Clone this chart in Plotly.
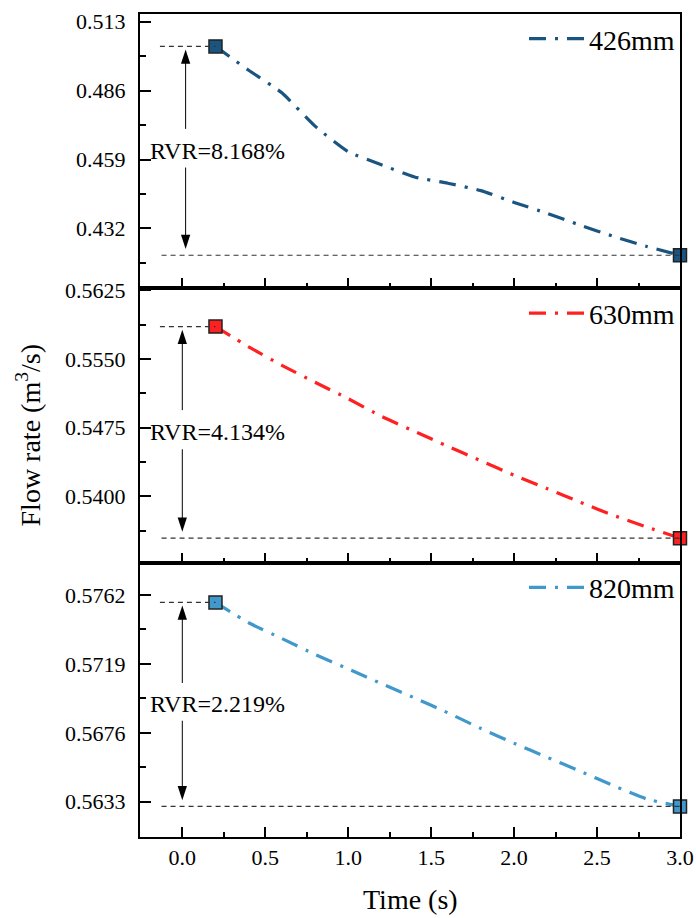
import plotly.graph_objects as go
from plotly.subplots import make_subplots

# ---------------- data ----------------
time = [0.2, 0.4, 0.6, 0.8, 1.0, 1.2, 1.4, 1.6, 1.8, 2.0, 2.2, 2.4, 2.6, 2.8, 3.0]
q426 = [0.50332, 0.49399, 0.48514, 0.47209, 0.46206, 0.45696, 0.45218, 0.44971,
        0.44681, 0.44219, 0.43792, 0.43322, 0.42887, 0.42495, 0.42150]
q630 = [0.55855, 0.55633, 0.55431, 0.55246, 0.55067, 0.54874, 0.54709, 0.54547,
        0.54387, 0.54230, 0.54083, 0.53934, 0.53790, 0.53664, 0.53542]
q820 = [0.57574, 0.57447, 0.57349, 0.57249, 0.57159, 0.57067, 0.56978, 0.56885,
        0.56787, 0.56695, 0.56607, 0.56520, 0.56430, 0.56347, 0.56301]
series_names = ["426mm", "630mm", "820mm"]
rvr_labels = ["RVR=8.168%", "RVR=4.134%", "RVR=2.219%"]

x_tickvals = [0.0, 0.5, 1.0, 1.5, 2.0, 2.5, 3.0]
x_ticktext = ["0.0", "0.5", "1.0", "1.5", "2.0", "2.5", "3.0"]
y1_tickvals = [0.432, 0.459, 0.486, 0.513]
y1_ticktext = ["0.432", "0.459", "0.486", "0.513"]
y2_tickvals = [0.5400, 0.5475, 0.5550, 0.5625]
y2_ticktext = ["0.5400", "0.5475", "0.5550", "0.5625"]
y3_tickvals = [0.5633, 0.5676, 0.5719, 0.5762]
y3_ticktext = ["0.5633", "0.5676", "0.5719", "0.5762"]

# ---------------- style ----------------
FONT = "Liberation Serif"
colors = ["#1A5581", "#FF2121", "#4098CC"]
y_ranges = [[0.40853, 0.51602], [0.53274, 0.56273], [0.5611, 0.57822]]
y_minor = [(0.432, 0.0135), (0.54, 0.00375), (0.5633, 0.00215)]
arrow_x = [0.02, 0.0, 0.0]
DASHDOT = "17px,9px,3px,9px"

fig = make_subplots(rows=3, cols=1, shared_xaxes=True, vertical_spacing=0)

all_series = [q426, q630, q820]
ytv = [y1_tickvals, y2_tickvals, y3_tickvals]
ytt = [y1_ticktext, y2_ticktext, y3_ticktext]
legend_ids = ["legend", "legend2", "legend3"]

for i, (q, name, col) in enumerate(zip(all_series, series_names, colors)):
    row = i + 1
    sfx = "" if i == 0 else str(i + 1)
    xr, yr = "x" + sfx, "y" + sfx
    # main line
    fig.add_trace(go.Scatter(x=time, y=q, mode="lines", name=name,
                             line=dict(color=col, width=3.2, dash=DASHDOT,
                                       shape="spline", smoothing=0.5),
                             legend=legend_ids[i]), row=row, col=1)
    # end markers
    fig.add_trace(go.Scatter(x=[time[0], time[-1]], y=[q[0], q[-1]], mode="markers",
                             marker=dict(symbol="square", size=13, color=col,
                                         line=dict(color="#222222", width=1.5)),
                             cliponaxis=False, showlegend=False), row=row, col=1)
    # dashed reference lines
    fig.add_shape(type="line", xref=xr, yref=yr, x0=-0.135, x1=time[0], y0=q[0], y1=q[0],
                  line=dict(color="#333333", width=1.2, dash="5px,4px"))
    fig.add_shape(type="line", xref=xr, yref=yr, x0=-0.125, x1=time[-1], y0=q[-1], y1=q[-1],
                  line=dict(color="#333333", width=1.2, dash="5px,4px"))
    # double arrow
    span = q[0] - q[-1]
    mid = (q[0] + q[-1]) / 2
    tip_top = q[0] - 0.015 * span
    tip_bot = q[-1] + 0.03 * span
    gap_top = mid + 0.105 * span
    gap_bot = mid - 0.08 * span
    ax = arrow_x[i]
    fig.add_shape(type="line", xref=xr, yref=yr, x0=ax, x1=ax, y0=tip_top - 0.03 * span, y1=gap_top,
                  line=dict(color="black", width=1))
    fig.add_shape(type="line", xref=xr, yref=yr, x0=ax, x1=ax, y0=gap_bot, y1=tip_bot + 0.03 * span,
                  line=dict(color="black", width=1))
    fig.add_trace(go.Scatter(x=[ax, ax], y=[tip_top, tip_bot], mode="markers",
                             marker=dict(symbol="arrow", size=15, color="black",
                                         angle=[0, 180], line=dict(width=0)),
                             showlegend=False, hoverinfo="skip"), row=row, col=1)
    # RVR text
    fig.add_annotation(x=-0.205, y=mid, xref=xr, yref=yr, text=rvr_labels[i],
                       showarrow=False, xanchor="left", yanchor="middle",
                       font=dict(family=FONT, size=24, color="black"))

    fig.update_yaxes(row=row, col=1, range=y_ranges[i], tickmode="array",
                     tickvals=ytv[i], ticktext=ytt[i], automargin=False,
                     ticks="inside", ticklen=11, tickwidth=2, tickcolor="black",
                     minor=dict(ticks="inside", ticklen=6, tickwidth=2, tickcolor="black",
                                tick0=y_minor[i][0], dtick=y_minor[i][1], showgrid=False),
                     showline=True, linecolor="black", linewidth=2, mirror=True,
                     showgrid=False, zeroline=False, ticklabelstandoff=8,
                     tickfont=dict(family=FONT, size=22, color="black"))
    fig.update_xaxes(row=row, col=1, range=[-0.255, 3.0], tickmode="array",
                     tickvals=x_tickvals, ticktext=x_ticktext, automargin=False,
                     ticks="inside", ticklen=10, tickwidth=2, tickcolor="black",
                     minor=dict(ticks="inside", ticklen=5, tickwidth=2, tickcolor="black",
                                tick0=0, dtick=0.25, showgrid=False),
                     showline=True, linecolor="black", linewidth=2, mirror=True,
                     showgrid=False, zeroline=False, showticklabels=(row == 3),
                     ticklabelstandoff=0,
                     tickfont=dict(family=FONT, size=22, color="black"))

leg_common = dict(xanchor="right", x=1.0, yanchor="top", bgcolor="rgba(0,0,0,0)",
                  font=dict(family=FONT, size=28, color="black"), itemwidth=55)
fig.update_layout(
    width=696, height=918,
    margin=dict(l=140, r=16, t=14, b=81, autoexpand=False),
    paper_bgcolor="white", plot_bgcolor="white",
    font=dict(family=FONT, color="black"),
    legend=dict(y=1.0, **leg_common),
    legend2=dict(y=2 / 3, **leg_common),
    legend3=dict(y=1 / 3, **leg_common),
)

fig.add_annotation(xref="paper", yref="paper", x=-0.206, y=0.4876,
                   text="Flow rate (m<sup>3</sup>/s)", textangle=-90, showarrow=False,
                   xanchor="center", yanchor="middle",
                   font=dict(family=FONT, size=28, color="black"))
fig.add_annotation(xref="paper", yref="paper", x=0.5, y=-0.0762,
                   text="Time (s)", showarrow=False, xanchor="center", yanchor="middle",
                   font=dict(family=FONT, size=28, color="black"))

fig.write_html("out.html")
